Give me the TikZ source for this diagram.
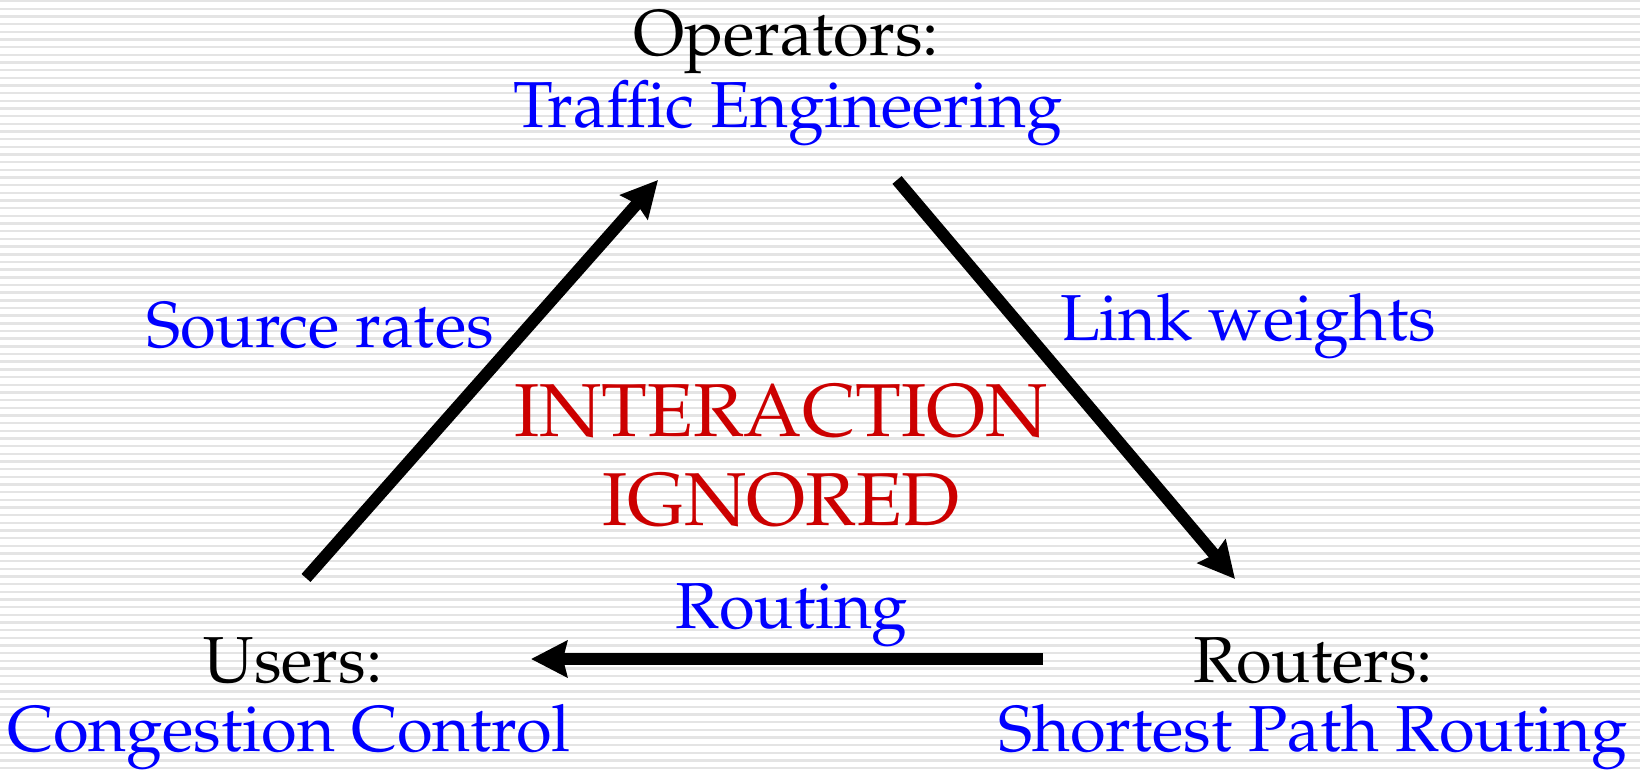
\documentclass[tikz,border=0pt]{standalone}
\usepackage[T1]{fontenc}
\usepackage{mathpazo}
\usetikzlibrary{arrows.meta}
\definecolor{stripe}{RGB}{228,228,228}
\definecolor{lblue}{RGB}{0,0,255}
\definecolor{lred}{RGB}{204,0,0}
\tikzset{
  lbl/.style={inner sep=0pt, font=\fontsize{65}{78}\selectfont},
  who/.style={lbl, text=black},
  what/.style={lbl, text=lblue},
  note/.style={inner sep=0pt, text=lred, font=\fontsize{75}{90}\selectfont},
  flow/.style={line width=12pt, -{Stealth[length=36pt, width=36pt, inset=4pt]}},
}
\begin{document}
\begin{tikzpicture}[x=1pt, y=-1pt]
  \useasboundingbox (0,0) rectangle (1640,775);
  % striped backdrop
  \fill[white] (0,0) rectangle (1640,775);
  \foreach \i in {0,...,101}
    \fill[stripe] (0,\i*7.67) rectangle (1640,\i*7.67+2.4);

  % three parties
  \node[who]  (ops)   at (786,42)  {Operators:};
  \node[what] (te)    at (788,113) {Traffic Engineering};
  \node[who]  (users) at (293,661) {Users:};
  \node[what] (cc)    at (289,737) {Congestion Control};
  \node[who]  (rtrs)  at (1313,661) {Routers:};
  \node[what] (spr)   at (1313,737) {Shortest Path Routing};

  % edge labels
  \node[what] (src)  at (320,326)  {Source rates};
  \node[what] (lw)   at (1248,326) {Link weights};
  \node[what] (rt)   at (792,615)  {Routing};
  \node[note] (int)  at (781,411)  {INTERACTION};
  \node[note] (ign)  at (781,500)  {IGNORED};

  % arrow ends
  \coordinate (uOut) at (306,578);
  \coordinate (tIn)  at (658,180);
  \coordinate (tOut) at (897,180);
  \coordinate (rIn)  at (1235,579);
  \coordinate (rOut) at (1043,659);
  \coordinate (uIn)  at (531,659);

  \draw[flow] (uOut) -- (tIn);
  \draw[flow] (tOut) -- (rIn);
  \draw[flow] (rOut) -- (uIn);
\end{tikzpicture}
\end{document}
